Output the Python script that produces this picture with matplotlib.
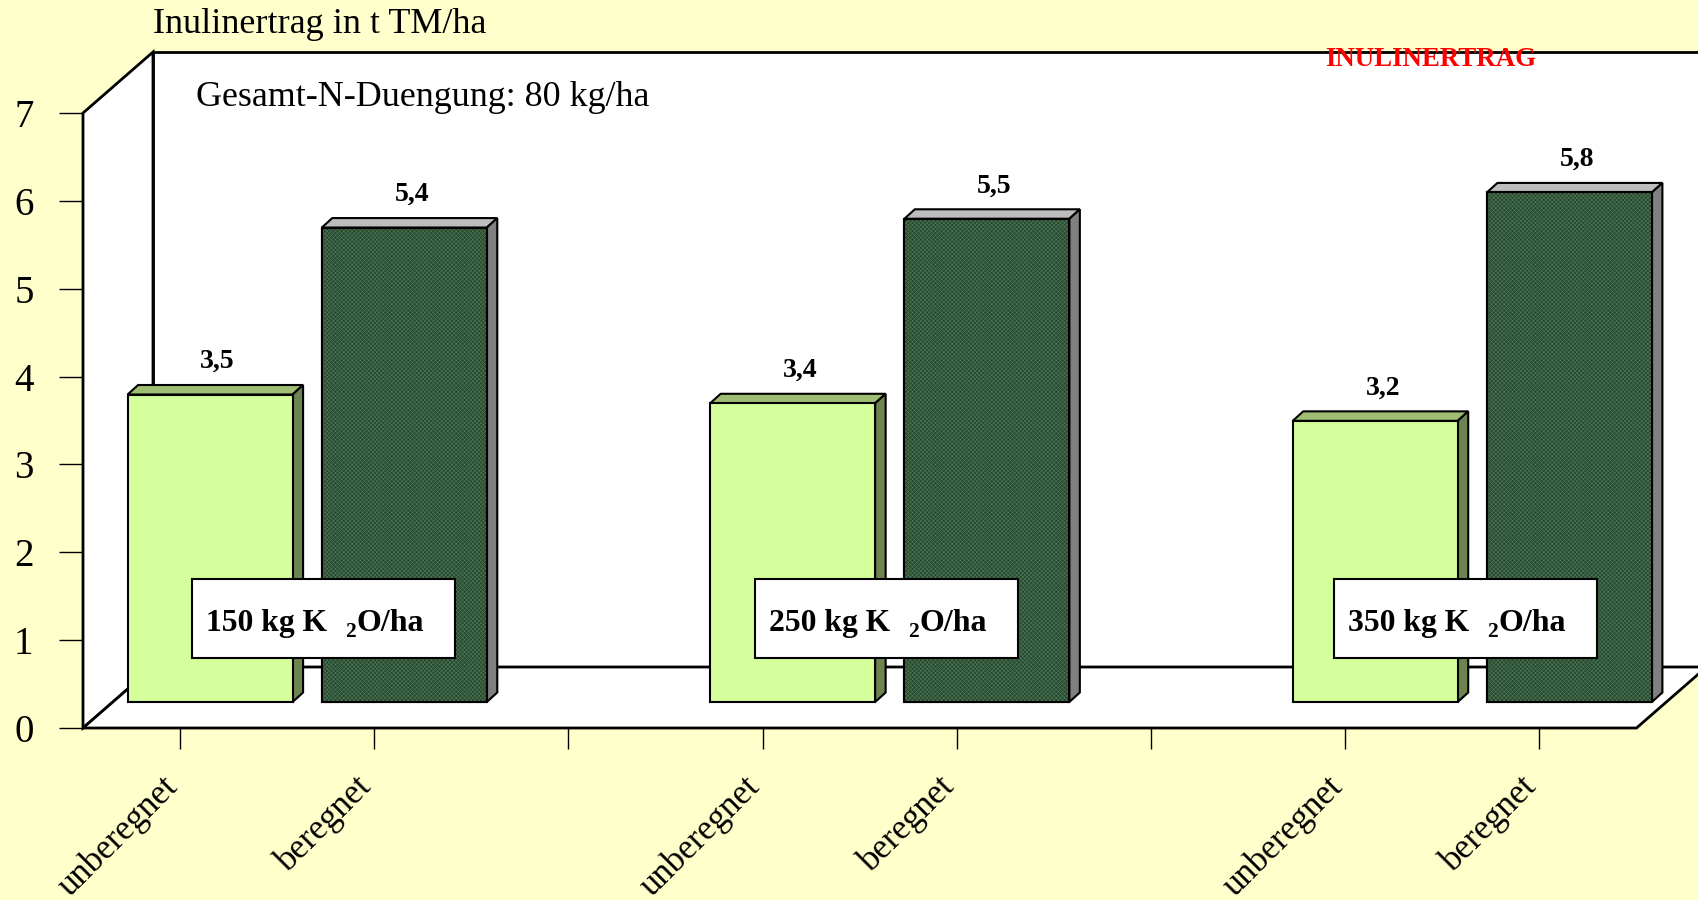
import matplotlib
matplotlib.use("Agg")
import matplotlib.pyplot as plt
from matplotlib.patches import Polygon, Rectangle
from matplotlib.transforms import ScaledTranslation

# Inulin yield per potassium level, alternating unirrigated / irrigated
categories = ["unberegnet", "beregnet", "", "unberegnet", "beregnet", "", "unberegnet", "beregnet"]
values = [3.5, 5.4, None, 3.4, 5.5, None, 3.2, 5.8]
value_labels = ["3,5", "5,4", None, "3,4", "5,5", None, "3,2", "5,8"]
potassium_labels = ["150", "250", "350"]
y_ticks = [0, 1, 2, 3, 4, 5, 6, 7]

W, H = 1698, 900
BG = "#FFFFCC"
SERIF = "Liberation Serif"

LIGHT = ("#D5FF9C", "#9FBD73", "#6E8450")
DARK = ("#264A2E", "#BDBDBD", "#808080")
DARK_DOTS = "#4F7458"

plt.rcParams["hatch.linewidth"] = 0.45

fig = plt.figure(figsize=(W / 100, H / 100), dpi=100, facecolor=BG)
# Front plane of the box: x 83..1636.5 px, y 728..113 px
ax = fig.add_axes([83 / W, 1 - 728 / H, (1636.5 - 83) / W, (728 - 113) / H])
ax.set_xlim(-0.5, 7.5)
ax.set_ylim(0, 7)
ax.patch.set_visible(False)
for s in ax.spines.values():
    s.set_visible(False)

ux = (1636.5 - 83) / 8   # px per category
uy = (728 - 113) / 7     # px per value unit
DX, DY = 70 / ux, 61 / uy              # depth of the box
BDX, BDY = 10.5 / ux, 9.5 / uy         # depth of a bar
BASE_X, BASE_Y = 30 / ux, 26 / uy      # bar foot offset on the floor
BAR_W = 165 / ux
EDGE = dict(edgecolor="black", linewidth=1.5, joinstyle="miter", clip_on=False)


def poly(points, face, z=1, **kw):
    style = dict(EDGE)
    style.update(kw)
    ax.add_patch(Polygon(points, closed=True, facecolor=face, zorder=z, **style))


x0, x1 = -0.5, 7.5
ymax = 7
# Back wall, side wall and floor
poly([(x0 + DX, DY), (x1 + DX, DY), (x1 + DX, ymax + DY), (x0 + DX, ymax + DY)], "white", 1, linewidth=2)
poly([(x0, 0), (x0 + DX, DY), (x0 + DX, ymax + DY), (x0, ymax)], "white", 1.1, linewidth=2)
poly([(x0, 0), (x1, 0), (x1 + DX, DY), (x0 + DX, DY)], "white", 1.2, linewidth=2)

# Bars with their top and side faces
for i, v in enumerate(values):
    if v is None:
        continue
    light = i % 3 == 0
    front, top, side = LIGHT if light else DARK
    l = i - BAR_W / 2 + BASE_X
    r = l + BAR_W
    b = BASE_Y
    t = b + v
    z = 3 + i * 0.1
    corners = [(l, b), (r, b), (r, t), (l, t)]
    poly([(l, t), (r, t), (r + BDX, t + BDY), (l + BDX, t + BDY)], top, z)
    poly([(r, b), (r + BDX, b + BDY), (r + BDX, t + BDY), (r, t)], side, z)
    poly(corners, front, z)
    if not light:
        # fine stipple over the dark front face
        ax.add_patch(Polygon(corners, closed=True, facecolor="none", edgecolor=DARK_DOTS,
                             hatch="xxxxxxxx", linewidth=0, zorder=z + 0.01, clip_on=False))
        poly(corners, "none", z + 0.02)
    ax.text(i + BASE_X + 7.5 / ux, t + BDY + 11 / uy, value_labels[i], family=SERIF,
            weight="bold", fontsize=20, ha="center", va="bottom", zorder=6)

# Axes ticks drawn in the front plane
ax.set_xticks(range(8))
ax.set_xticklabels(categories, rotation=45, ha="right", va="top", rotation_mode="anchor",
                   family=SERIF, fontsize=25)
ax.set_yticks(y_ticks)
ax.set_yticklabels([str(t) for t in y_ticks], family=SERIF, fontsize=28)
ax.tick_params(axis="x", length=15, width=1, pad=18)
ax.tick_params(axis="y", length=17.6, width=1, pad=18)
shift = ScaledTranslation(-19 / 100, 4 / 100, fig.dpi_scale_trans)
for lab in ax.get_xticklabels():
    lab.set_transform(lab.get_transform() + shift)


def px_text(x, y, s, **kw):
    """Text placed at pixel coordinates measured from the top-left corner."""
    kw.setdefault("family", SERIF)
    return fig.text(x / W, 1 - y / H, s, va="baseline", ha="left", zorder=10, **kw)


px_text(153, 33, "Inulinertrag in t TM/ha", fontsize=26)
px_text(196, 106, "Gesamt-N-Duengung: 80 kg/ha", fontsize=25.9)
px_text(1325, 66, "INULINERTRAG", fontsize=19.4, weight="bold", color="red")

# Potassium level boxes laid over the bars
for lbl, left in zip(potassium_labels, [192, 755, 1334]):
    fig.add_artist(Rectangle((left / W, 1 - 658 / H), 263 / W, 79 / H, transform=fig.transFigure,
                             facecolor="white", edgecolor="black", linewidth=1.5, zorder=9))
    px_text(left + 14, 631, f"{lbl} kg K", fontsize=22.8, weight="bold")
    px_text(left + 153, 637, "2", fontsize=15.5, weight="bold")
    px_text(left + 165, 631, "O/ha", fontsize=23, weight="bold")

fig.savefig("out.png", dpi=100, facecolor=BG)
